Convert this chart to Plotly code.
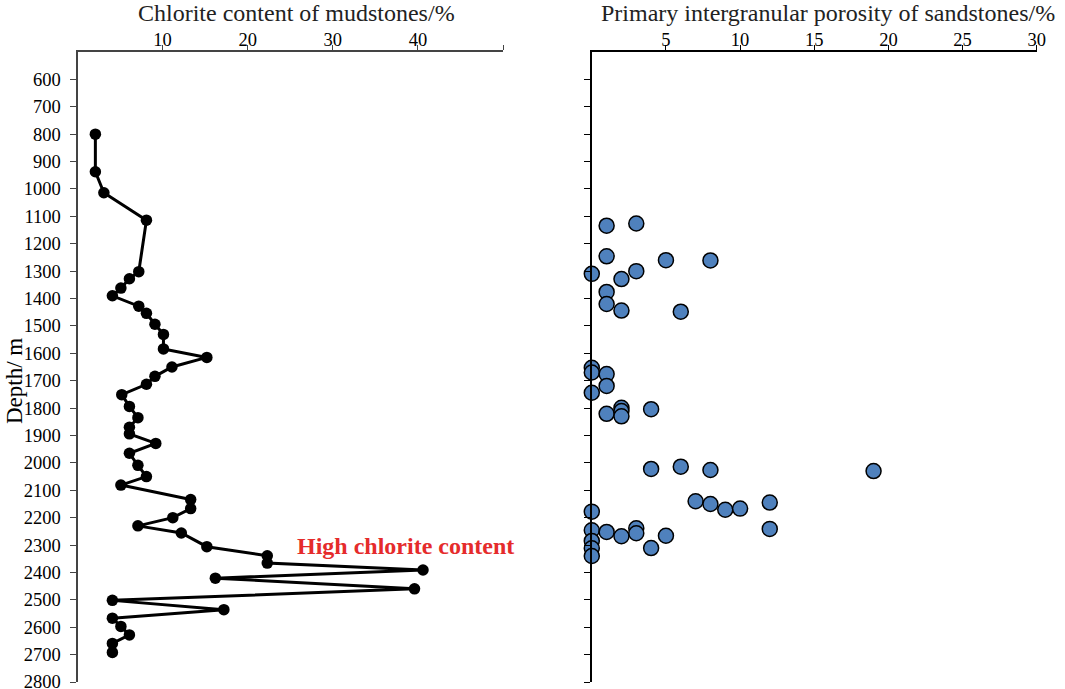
import plotly.graph_objects as go

# ---- data ----
mud_depth = [800, 937, 1014, 1114, 1302, 1328, 1362, 1390, 1428, 1454, 1494, 1531,
             1584, 1615, 1650, 1684, 1713, 1751, 1794, 1835, 1870, 1894, 1929, 1965,
             2009, 2050, 2081, 2134, 2167, 2200, 2230, 2256, 2306, 2339, 2366, 2391,
             2421, 2460, 2502, 2536, 2567, 2597, 2628, 2659, 2692]
chlorite = [2.1, 2.1, 3.1, 8.1, 7.2, 6.1, 5.1, 4.1, 7.2, 8.1, 9.1, 10.1,
            10.1, 15.2, 11.1, 9.1, 8.1, 5.2, 6.1, 7.1, 6.1, 6.1, 9.2, 6.1,
            7.1, 8.1, 5.1, 13.3, 13.3, 11.2, 7.1, 12.2, 15.2, 22.3, 22.3, 40.6,
            16.2, 39.6, 4.1, 17.2, 4.1, 5.1, 6.1, 4.1, 4.1]

sand_depth = [1134, 1126, 1246, 1260, 1261, 1310, 1300, 1329, 1376, 1420, 1444, 1448,
              1653, 1670, 1676, 1719, 1744, 1799, 1804, 1821, 1811, 1830,
              2022, 2014, 2026, 2030, 2140, 2150, 2171, 2167, 2145, 2178,
              2241, 2246, 2252, 2268, 2239, 2257, 2266, 2311, 2285, 2312, 2340]
porosity = [1.0, 3.0, 1.0, 5.0, 8.0, 0.0, 3.0, 2.0, 1.0, 1.0, 2.0, 6.0,
            0.0, 0.0, 1.0, 1.0, 0.0, 2.0, 4.0, 1.0, 2.0, 2.0,
            4.0, 6.0, 8.0, 19.0, 7.0, 8.0, 9.0, 10.0, 12.0, 0.0,
            12.0, 0.0, 1.0, 2.0, 3.0, 3.0, 5.0, 4.0, 0.0, 0.0, 0.0]

depth_ticks = list(range(600, 2801, 100))
chl_ticks = [10, 20, 30, 40, 50]
chl_labels = ["10", "20", "30", "40", ""]
por_ticks = [5, 10, 15, 20, 25, 30]

title_left = "Chlorite content of mudstones/%"
title_right = "Primary intergranular porosity of sandstones/%"
y_title = "Depth/ m"
note = "High chlorite content"

FONT = "Liberation Serif, Times New Roman, serif"
W, H = 1065, 689
tickfont = dict(family=FONT, size=18.5, color="black")

fig = go.Figure()
fig.add_trace(go.Scatter(
    x=chlorite, y=mud_depth, mode="lines+markers",
    line=dict(color="black", width=3),
    marker=dict(color="black", size=11.5),
    xaxis="x", yaxis="y", cliponaxis=False, showlegend=False))
fig.add_trace(go.Scatter(
    x=porosity, y=sand_depth, mode="markers",
    marker=dict(color="#4f81bd", size=15, line=dict(color="black", width=1.5)),
    xaxis="x2", yaxis="y2", cliponaxis=False, showlegend=False))

common_y = dict(range=[2800, 500], tickvals=depth_ticks, ticks="outside", ticklen=6,
                showgrid=False, zeroline=False, showline=True,
                domain=[1 - 682 / H, 1 - 52 / H], tickfont=tickfont,
                ticklabeloverflow="allow", automargin=False)
fig.update_layout(
    width=W, height=H, margin=dict(l=0, r=0, t=0, b=0, autoexpand=False),
    paper_bgcolor="white", plot_bgcolor="white",
    font=dict(family=FONT, size=18, color="black"),
    xaxis=dict(domain=[77.5 / W, 503 / W], range=[0, 50], side="top",
               tickvals=chl_ticks, ticktext=chl_labels, ticks="outside", ticklen=5,
               showgrid=False, zeroline=False, showline=True, linewidth=2,
               linecolor="#444", tickcolor="#444", anchor="y", tickfont=tickfont,
               ticklabelstandoff=-8, ticklabeloverflow="allow", automargin=False),
    yaxis=dict(**common_y, linewidth=2, linecolor="#444", tickcolor="#444", anchor="x",
               ticklabelstandoff=5),
    xaxis2=dict(domain=[591.8 / W, 1036.7 / W], range=[0, 30], side="top",
                tickvals=por_ticks, ticks="outside", ticklen=5,
                showgrid=False, zeroline=False, showline=True, linewidth=1.5,
                linecolor="black", tickcolor="black", anchor="y2", tickfont=tickfont,
                ticklabelstandoff=-8, ticklabeloverflow="allow", automargin=False),
    yaxis2=dict(**common_y, linewidth=1.5, linecolor="black", tickcolor="black",
                showticklabels=False, anchor="x2"),
)
fig.add_annotation(text=title_left, x=296 / W, y=1 - 13 / H, xref="paper", yref="paper",
                   xanchor="center", yanchor="middle",
                   showarrow=False, font=dict(size=24, family=FONT, color="#222"))
fig.add_annotation(text=title_right, x=828 / W, y=1 - 13 / H, xref="paper", yref="paper",
                   xanchor="center", yanchor="middle",
                   showarrow=False, font=dict(size=24, family=FONT, color="#222"))
fig.add_annotation(text=y_title, x=14 / W, y=1 - 381 / H, xref="paper", yref="paper",
                   xanchor="center", yanchor="middle",
                   textangle=-90, showarrow=False, font=dict(size=23, family=FONT, color="black"))
fig.add_annotation(text="<b>" + note + "</b>", x=38.5, y=2303, xref="x", yref="y",
                   xanchor="center", yanchor="middle",
                   showarrow=False, font=dict(size=24, family=FONT, color="#e52b2b"))

fig.write_html("out.html", config={"displayModeBar": False},
               post_script="document.body.style.margin='0';document.body.style.overflow='hidden';")
